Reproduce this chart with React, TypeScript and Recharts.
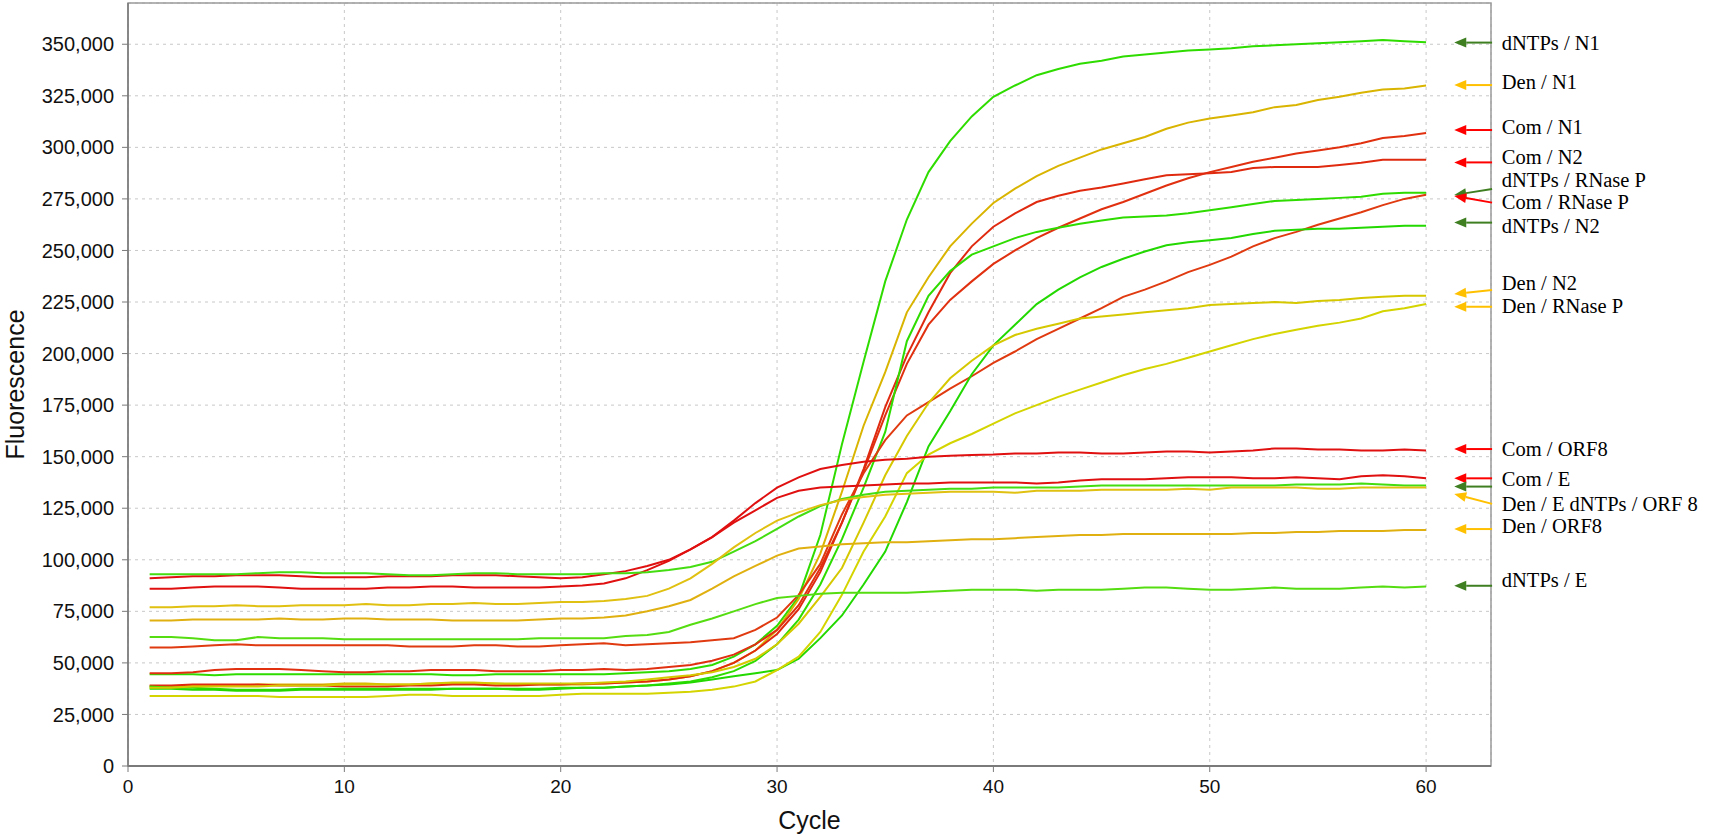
import { LineChart, Line, XAxis, YAxis, CartesianGrid, ReferenceLine, ReferenceDot, ReferenceArea } from "recharts";

// cycle numbers on the x axis
const cycles = Array.from({ length: 60 }, (_, i) => i + 1);
const xTicks = [0, 10, 20, 30, 40, 50, 60];
const yTicks = [0, 25000, 50000, 75000, 100000, 125000, 150000, 175000, 200000, 225000, 250000, 275000, 300000, 325000, 350000];

// fluorescence readings, in thousands, cycles 1..60
const dntpsN1 = [
  44.5, 44.5, 44.5, 44, 44.5, 44.5, 44.5, 44.5, 44.5, 44.5, 44.5, 44.5, 44.5, 44.5, 44, 44, 44.5, 44.5, 44.5, 44.5,
  44.5, 44.5, 45, 45.5, 46, 47, 49, 53, 59, 68, 82, 112, 156, 196, 235, 265, 288, 303, 315, 324.5,
  330, 335, 338, 340.5, 342, 344, 345, 346, 347, 347.5, 348, 349, 349.5, 350, 350.5, 351, 351.5, 352, 351.5, 351,
];
const denN1 = [
  38.5, 38.5, 39, 39, 39, 39.5, 39.5, 39.5, 39.5, 40, 40, 39.5, 39.5, 40, 40, 40, 40, 39.5, 39.5, 39.5,
  39.5, 40, 40.5, 41, 42, 43.5, 46, 50, 56, 66, 81, 103, 133, 165, 191, 220, 237, 252, 263, 273,
  280, 286, 291, 295, 299, 302, 305, 309, 312, 314, 315.5, 317, 319.5, 320.5, 323, 324.5, 326.5, 328, 328.5, 330,
];
const comN1 = [
  45, 45, 45.5, 46.5, 47, 47, 47, 46.5, 46, 45.5, 45.5, 46, 46, 46.5, 46.5, 46.5, 46, 46, 46, 46.5,
  46.5, 47, 46.5, 47, 48, 49, 51, 54, 59, 66, 78, 96, 118, 143, 170, 195, 214, 226, 235, 243.5,
  250, 256, 261, 265.5, 270, 273.5, 277.5, 281.5, 285, 288, 290.5, 293, 295, 297, 298.5, 300, 302, 304.5, 305.5, 307,
];
const comN2 = [
  39, 39, 39.5, 39.5, 39.5, 39.5, 39, 39, 39, 38.5, 38.5, 38.5, 39, 39, 39.5, 39.5, 39, 39, 39.5, 39.5,
  40, 40, 40.5, 41, 42, 43.5, 46, 50, 56, 64, 76, 94, 118, 144, 174, 199, 220, 239, 252, 261.5,
  268, 273.5, 276.5, 279, 280.5, 282.5, 284.5, 286.5, 287, 287.5, 288, 290, 290.5, 290.5, 290.5, 291.5, 292.5, 294, 294, 294,
];
const dntpsRnaseP = [
  38.5, 38, 38, 37.5, 37, 37, 37, 37.5, 37.5, 37.5, 37.5, 37.5, 37.5, 37.5, 37.5, 37.5, 37.5, 37.5, 37.5, 38,
  38, 38, 38.5, 39, 40, 41, 43, 46, 51, 59, 71, 88, 110, 135, 162, 206, 228, 240, 248, 252,
  256, 259, 261, 263, 264.5, 266, 266.5, 267, 268, 269.5, 271, 272.5, 274, 274.5, 275, 275.5, 276, 277.5, 278, 278,
];
const comRnaseP = [
  57.5, 57.5, 58, 58.5, 59, 58.5, 58.5, 58.5, 58.5, 58.5, 58.5, 58.5, 58, 58, 58, 58.5, 58.5, 58, 58, 58.5,
  59, 59.5, 58.5, 59, 59.5, 60, 61, 62, 66, 72, 83, 98, 122, 142, 158, 170, 176.5, 183, 189, 195.5,
  201, 207, 212, 217, 222, 227.5, 231, 235, 239.5, 243, 247, 252, 256, 259, 262.5, 265.5, 268.5, 272, 275, 277,
];
const dntpsN2 = [
  37.5, 37.5, 37, 37, 36.5, 36.5, 36.5, 37, 37, 37, 37, 37, 37, 37, 37.5, 37.5, 37.5, 37, 37, 37.5,
  38, 38, 38.5, 39, 39.5, 40.5, 42, 43.5, 45, 46.5, 52, 62, 73, 88, 104, 128, 155, 172, 190, 204,
  214, 224, 231, 237, 242, 246, 249.5, 252.5, 254, 255, 256, 258, 259.5, 260, 260.5, 260.5, 261, 261.5, 262, 262,
];
const denN2 = [
  38, 38, 38.5, 38.5, 38.5, 38.5, 39, 39, 39, 39.5, 39.5, 39.5, 39.5, 40, 40.5, 40.5, 40, 40, 40, 40,
  40, 40.5, 41, 42, 43, 44, 45.5, 48, 52, 59, 69, 82, 96, 118, 141, 160, 176, 188, 196.5, 204,
  209, 212, 214.5, 217, 218, 219, 220, 221, 222, 223.5, 224, 224.5, 225, 224.5, 225.5, 226, 227, 227.5, 228, 228,
];
const denRnaseP = [
  34, 34, 34, 34, 34, 34, 33.5, 33.5, 33.5, 33.5, 33.5, 34, 34.5, 34.5, 34, 34, 34, 34, 34, 34.5,
  35, 35, 35, 35, 35.5, 36, 37, 38.5, 41, 46.5, 53, 65, 83, 104, 121, 142, 151, 156.5, 161, 166,
  171, 175, 179, 182.5, 186, 189.5, 192.5, 195, 198, 201, 204, 207, 209.5, 211.5, 213.5, 215, 217, 220.5, 222, 224,
];
const comOrf8 = [
  91, 91.5, 92, 92, 92.5, 92.5, 92.5, 92, 91.5, 91.5, 91.5, 92, 92, 92, 92.5, 92.5, 92.5, 92, 91.5, 91,
  91.5, 93, 94.5, 97, 100, 105, 111, 119, 127.5, 135, 140, 144, 146, 147.5, 148.5, 149, 150, 150.5, 150.8, 151,
  151.5, 151.5, 152, 152, 151.5, 151.5, 152, 152.5, 152.5, 152, 152.5, 153, 154, 154, 153.5, 153.5, 153, 153, 153.5, 153,
];
const comE = [
  86, 86, 86.5, 87, 87, 87, 86.5, 86, 86, 86, 86, 86.5, 86.5, 87, 87, 86.5, 86.5, 86.5, 86.5, 87,
  87.5, 88.5, 91, 95, 99.5, 105, 111, 118, 124, 130, 133.5, 135, 135.5, 136, 136.5, 137, 137, 137.5, 137.5, 137.5,
  137.5, 137, 137.5, 138.5, 139, 139, 139, 139.5, 140, 140, 140, 139.5, 139.5, 140, 139.5, 139, 140.5, 141, 140.5, 139.5,
];
const dntpsOrf8 = [
  93, 93, 93, 93, 93, 93.5, 94, 94, 93.5, 93.5, 93.5, 93, 92.5, 92.5, 93, 93.5, 93.5, 93, 93, 93,
  93, 93.5, 93.5, 94, 95, 96.5, 99, 104, 109, 115, 121, 126, 129.5, 131.5, 133, 133.5, 134, 134.5, 134.5, 135,
  135, 135, 135, 135.5, 136, 136, 136, 136, 136, 136, 136, 136, 136, 136.5, 136.5, 136.5, 137, 136.5, 136, 136,
];
const denE = [
  77, 77, 77.5, 77.5, 78, 77.5, 77.5, 78, 78, 78, 78.5, 78, 78, 78.5, 78.5, 79, 78.5, 78.5, 79, 79.5,
  79.5, 80, 81, 82.5, 86, 91, 98, 106, 113, 119, 123, 126.5, 129, 130.5, 131.5, 132, 132.5, 133, 133, 133,
  132.5, 133.5, 133.5, 133.5, 134, 134, 134, 134, 134.5, 134, 135, 135, 135, 135, 134.5, 134.5, 135, 135, 135, 135,
];
const denOrf8 = [
  70.5, 70.5, 71, 71, 71, 71, 71.5, 71, 71, 71.5, 71.5, 71, 71, 71, 70.5, 70.5, 70.5, 70.5, 71, 71.5,
  71.5, 72, 73, 75, 77.5, 80.5, 86, 92, 97, 102, 105.5, 106.5, 107.5, 108, 108.5, 108.5, 109, 109.5, 110, 110,
  110.5, 111, 111.5, 112, 112, 112.5, 112.5, 112.5, 112.5, 112.5, 112.5, 113, 113, 113.5, 113.5, 114, 114, 114, 114.5, 114.5,
];
const dntpsE = [
  62.5, 62.5, 62, 61, 61, 62.5, 62, 62, 62, 61.5, 61.5, 61.5, 61.5, 61.5, 61.5, 61.5, 61.5, 61.5, 62, 62,
  62, 62, 63, 63.5, 65, 68.5, 71.5, 75, 78.5, 81.5, 82.5, 83.5, 84, 84, 84, 84, 84.5, 85, 85.5, 85.5,
  85.5, 85, 85.5, 85.5, 85.5, 86, 86.5, 86.5, 86, 85.5, 85.5, 86, 86.5, 86, 86, 86, 86.5, 87, 86.5, 87,
];

const series = [
  { key: "dntpsN1", values: dntpsN1, color: "#2fdc00" },
  { key: "denN1", values: denN1, color: "#d9b400" },
  { key: "comN1", values: comN1, color: "#e03010" },
  { key: "comN2", values: comN2, color: "#e02a10" },
  { key: "dntpsRnaseP", values: dntpsRnaseP, color: "#2fdc00" },
  { key: "comRnaseP", values: comRnaseP, color: "#e03a10" },
  { key: "dntpsN2", values: dntpsN2, color: "#22d800" },
  { key: "denN2", values: denN2, color: "#d6c800" },
  { key: "denRnaseP", values: denRnaseP, color: "#d4d400" },
  { key: "comOrf8", values: comOrf8, color: "#e01010" },
  { key: "comE", values: comE, color: "#e01010" },
  { key: "dntpsOrf8", values: dntpsOrf8, color: "#44dd11" },
  { key: "denE", values: denE, color: "#e0c010" },
  { key: "denOrf8", values: denOrf8, color: "#e0b010" },
  { key: "dntpsE", values: dntpsE, color: "#55dd11" },
];

const rows = cycles.map((c, i) => {
  const row: Record<string, number> = { cycle: c };
  series.forEach((s) => (row[s.key] = s.values[i] * 1000));
  return row;
});

// right-hand callouts: label, arrow colour, arrow tip value, arrow tail value, label value
const ARROW = { dntps: "#3f7f22", den: "#ffc000", com: "#ff0000" };
const notes = [
  { text: "dNTPs / N1", color: ARROW.dntps, tip: 350800, tail: 350800, at: 350800 },
  { text: "Den / N1", color: ARROW.den, tip: 330200, tail: 330200, at: 331800 },
  { text: "Com / N1", color: ARROW.com, tip: 308400, tail: 308400, at: 310000 },
  { text: "Com / N2", color: ARROW.com, tip: 292700, tail: 292700, at: 295200 },
  { text: "dNTPs / RNase P", color: ARROW.dntps, tip: 276900, tail: 279800, at: 284200 },
  { text: "Com / RNase P", color: ARROW.com, tip: 276400, tail: 273200, at: 273400 },
  { text: "dNTPs / N2", color: ARROW.dntps, tip: 263500, tail: 263500, at: 262000 },
  { text: "Den / N2", color: ARROW.den, tip: 228900, tail: 230800, at: 234400 },
  { text: "Den / RNase P", color: ARROW.den, tip: 222700, tail: 222700, at: 223000 },
  { text: "Com / ORF8", color: ARROW.com, tip: 153700, tail: 153700, at: 153700 },
  { text: "Com / E", color: ARROW.com, tip: 139500, tail: 139500, at: 139200 },
  { text: "", color: ARROW.dntps, tip: 135500, tail: 135500, at: 135500 },
  { text: "Den / E dNTPs / ORF 8", color: ARROW.den, tip: 131900, tail: 127100, at: 127100 },
  { text: "Den / ORF8", color: ARROW.den, tip: 114900, tail: 114900, at: 116400 },
  { text: "dNTPs / E", color: ARROW.dntps, tip: 87400, tail: 87400, at: 90200 },
];

const SANS = "'Liberation Sans', Arial, sans-serif";
const SERIF = "'Liberation Serif', 'Times New Roman', serif";

function Arrow(props: any) {
  const { x1, y1, x2, y2, color } = props;
  const dx = x2 - x1;
  const dy = y2 - y1;
  const len = Math.sqrt(dx * dx + dy * dy) || 1;
  const ux = dx / len;
  const uy = dy / len;
  const hl = 12;
  const hw = 5;
  const bx = x2 - ux * hl;
  const by = y2 - uy * hl;
  const pts = `${x2},${y2} ${bx - uy * hw},${by + ux * hw} ${bx + uy * hw},${by - ux * hw}`;
  return (
    <g>
      <line x1={x1} y1={y1} x2={bx} y2={by} stroke={color} strokeWidth={2} />
      <polygon points={pts} fill={color} />
    </g>
  );
}

function NoteText(props: any) {
  const { cx, cy, label } = props;
  return (
    <text x={cx} y={cy} dominantBaseline="central" fontFamily={SERIF} fontSize={20.5} fill="#000">
      {label}
    </text>
  );
}

function YTitle(props: any) {
  const vb = props.viewBox || { x: 0, y: 3, width: 128, height: 763 };
  const cx = 15;
  const cy = vb.y + vb.height / 2;
  return (
    <text x={cx} y={cy} transform={`rotate(-90 ${cx} ${cy})`} textAnchor="middle" dominantBaseline="central"
      fontFamily={SANS} fontSize={25} fill="#111">
      Fluorescence
    </text>
  );
}

export default function App() {
  return (
    <div style={{ position: "absolute", left: 0, top: 0, width: 1713, height: 837, background: "#fff" }}>
      <LineChart width={1713} height={837} data={rows} margin={{ top: 3, right: 222, bottom: 0, left: 0 }}>
        <CartesianGrid stroke="#c8c8c8" strokeDasharray="3 4" />
        <ReferenceArea x1={0} x2={63} y1={0} y2={370000} fill="none" stroke="#9a9a9a" strokeWidth={1.5} ifOverflow="visible" />
        <XAxis
          dataKey="cycle"
          type="number"
          domain={[0, 63]}
          ticks={xTicks}
          height={71}
          tickSize={6}
          tickMargin={8}
          axisLine={{ stroke: "#7a7a7a", strokeWidth: 2 }}
          tickLine={{ stroke: "#7a7a7a" }}
          tick={{ fill: "#111", fontSize: 19, fontFamily: SANS }}
          label={{ value: "Cycle", position: "insideBottom", offset: 8, fill: "#111", fontSize: 25, fontFamily: SANS }}
        />
        <YAxis
          type="number"
          domain={[0, 370000]}
          ticks={yTicks}
          width={128}
          tickSize={6}
          tickMargin={8}
          axisLine={{ stroke: "#7a7a7a", strokeWidth: 1.5 }}
          tickLine={{ stroke: "#7a7a7a" }}
          tick={{ fill: "#111", fontSize: 20, fontFamily: SANS }}
          tickFormatter={(v: number) => v.toLocaleString("en-US")}
          label={<YTitle />}
        />
        {series.map((s) => (
          <Line key={s.key} dataKey={s.key} type="linear" stroke={s.color} strokeWidth={2} dot={false} isAnimationActive={false} />
        ))}
        {notes.map((n, i) => (
          <ReferenceLine
            key={"a" + i}
            segment={[{ x: 63.05, y: n.tail }, { x: 61.3, y: n.tip }]}
            ifOverflow="visible"
            shape={(p: any) => <Arrow {...p} color={n.color} />}
          />
        ))}
        {notes.filter((n) => n.text).map((n, i) => (
          <ReferenceDot
            key={"t" + i}
            x={63.5}
            y={n.at}
            ifOverflow="visible"
            shape={(p: any) => <NoteText {...p} label={n.text} />}
          />
        ))}
      </LineChart>
    </div>
  );
}
